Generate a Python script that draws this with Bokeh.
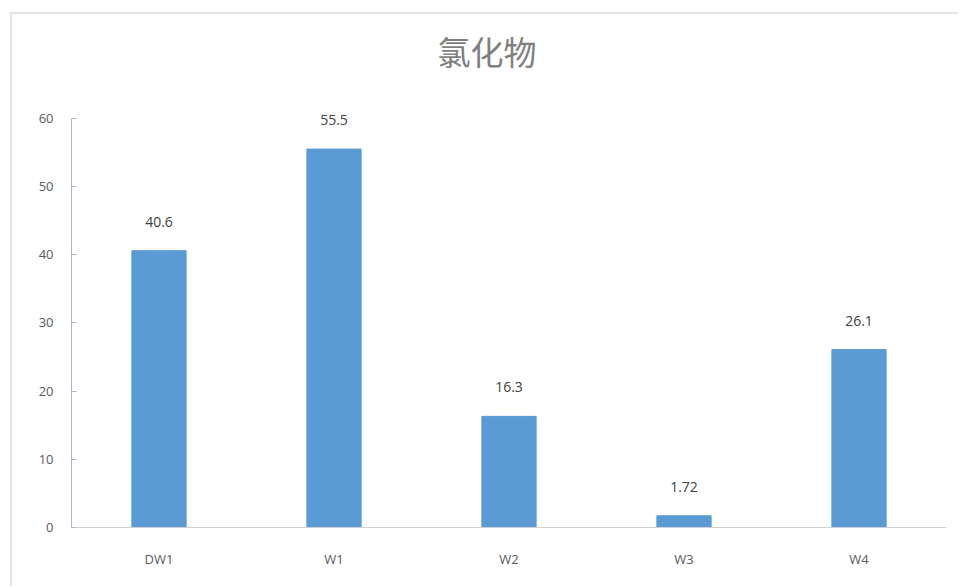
from bokeh.plotting import figure
from bokeh.models import ColumnDataSource, FixedTicker
from bokeh.core.properties import value
from bokeh.embed import file_html
from bokeh.resources import INLINE

categories = ["DW1", "W1", "W2", "W3", "W4"]
values = [40.6, 55.5, 16.3, 1.72, 26.1]
value_labels = ["40.6", "55.5", "16.3", "1.72", "26.1"]
y_ticks = [0, 10, 20, 30, 40, 50, 60]
title_text = "氯化物"

src = ColumnDataSource(dict(cat=categories, val=values, lab=value_labels))

p = figure(x_range=categories, y_range=(0, 66), width=948, height=574,
           output_backend="svg", toolbar_location=None,
           min_border_left=59, min_border_right=14, min_border_top=63, min_border_bottom=61)
p.margin = (12, 0, 0, 10)
p.styles = {"border-left": "2px solid #e3e3e3", "border-top": "2px solid #e3e3e3"}
p.outline_line_color = None
p.xgrid.grid_line_color = None
p.ygrid.grid_line_color = None
p.background_fill_color = "white"
p.border_fill_color = "white"

p.title.text = title_text
p.title.align = "left"
p.title.offset = 366
p.title.standoff = 6
p.title.text_font = "Noto Sans CJK SC"
p.title.text_font_size = "33px"
p.title.text_font_style = "normal"
p.title.text_color = "#7f7f7f"

p.vbar(x="cat", top="val", width=0.31, source=src, color="#5B9BD5")
p.text(x="cat", y="val", text="lab", source=src, text_align="center", text_baseline="bottom",
       y_offset=-24, text_font=value("Open Sans"), text_font_size="14px", text_color="#404040")

p.yaxis.ticker = FixedTicker(ticks=y_ticks)
p.yaxis.bounds = (0, 60)
p.yaxis.axis_line_color = "#a9b8c8"
p.yaxis.major_tick_line_color = "#a9b8c8"
p.yaxis.major_tick_in = 5
p.yaxis.major_tick_out = 0
p.yaxis.minor_tick_line_color = None
p.yaxis.major_label_standoff = 18
p.yaxis.major_label_text_font = "Open Sans"
p.yaxis.major_label_text_font_size = "13px"
p.yaxis.major_label_text_color = "#595959"

p.xaxis.axis_line_color = "#d0d0d0"
p.xaxis.major_tick_line_color = None
p.xaxis.minor_tick_line_color = None
p.xaxis.major_label_standoff = 16
p.xaxis.major_label_text_font = "Open Sans"
p.xaxis.major_label_text_font_size = "13px"
p.xaxis.major_label_text_color = "#595959"

open("out.html", "w").write(file_html(p, INLINE))
